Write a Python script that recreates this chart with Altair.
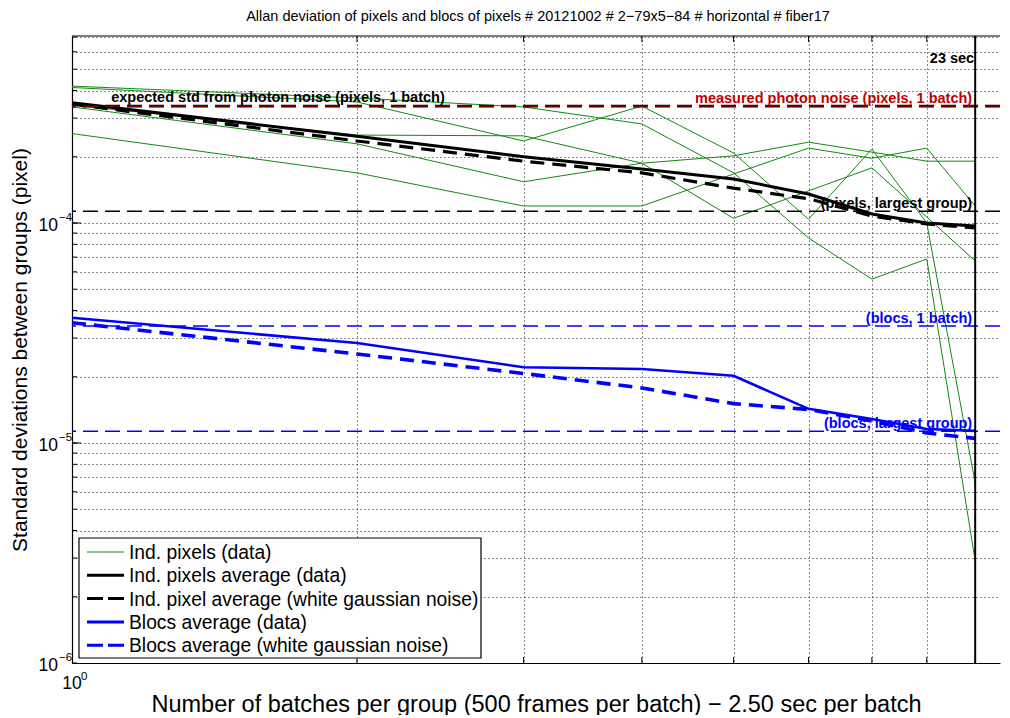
import altair as alt
import pandas as pd

# ---------------- data ----------------
batches = [1, 2, 3, 4, 5, 6, 7, 8, 9]

pixel_a = [4.19e-4, 3.70e-4, 3.37e-4, 2.82e-4, 1.69e-4, 8.55e-5, 5.56e-5, 6.86e-5, 2.91e-6]
pixel_b = [4.13e-4, 3.55e-4, 2.36e-4, 3.40e-4, 2.08e-4, 1.04e-4, 2.17e-4, 1.00e-4, 6.58e-6]
pixel_c = [3.44e-4, 2.51e-4, 2.49e-4, 1.87e-4, 1.05e-4, 1.40e-4, 1.78e-4, 1.065e-4, 6.72e-5]
pixel_d = [3.37e-4, 2.29e-4, 1.54e-4, 1.87e-4, 2.02e-4, 2.33e-4, 2.10e-4, 1.91e-4, 1.91e-4]
pixel_e = [2.55e-4, 1.69e-4, 1.195e-4, 1.195e-4, 1.67e-4, 2.19e-4, 1.97e-4, 2.19e-4, 1.195e-4]

pix_avg_data = [3.52e-4, 2.48e-4, 2.00e-4, 1.76e-4, 1.585e-4, 1.355e-4, 1.099e-4, 1.00e-4, 0.969e-4]
pix_avg_wgn = [3.47e-4, 2.36e-4, 1.91e-4, 1.69e-4, 1.44e-4, 1.29e-4, 1.076e-4, 0.99e-4, 0.949e-4]
bloc_avg_data = [3.71e-5, 2.85e-5, 2.21e-5, 2.17e-5, 2.02e-5, 1.43e-5, 1.285e-5, 1.158e-5, 1.135e-5]
bloc_avg_wgn = [3.52e-5, 2.54e-5, 2.07e-5, 1.78e-5, 1.51e-5, 1.42e-5, 1.26e-5, 1.11e-5, 1.05e-5]

expected_photon = 3.40e-4
measured_photon = 3.40e-4
pixel_largest = 1.13e-4
bloc_one = 3.40e-5
bloc_largest = 1.13e-5
largest_group = 9

title_text = "Allan deviation of pixels and blocs of pixels # 20121002 # 2\u221279x5\u221284 # horizontal # fiber17"
x_title = "Number of batches per group (500 frames per batch) \u2212 2.50 sec per batch"
y_title = "Standard deviations between groups (pixel)"

legend_labels = [
    "Ind. pixels (data)",
    "Ind. pixels average (data)",
    "Ind. pixel average (white gaussian noise)",
    "Blocs average (data)",
    "Blocs average (white gaussian noise)",
]

y_decades = [1e-4, 1e-5, 1e-6]
y_decade_sup = ["\u22124", "\u22125", "\u22126"]
y_minor = [m * 10.0 ** e for e in (-6, -5, -4) for m in range(1, 10) if m * 10.0 ** e < 7.05e-4]
x_grid = [2, 3, 4, 5, 6, 7, 8, 9]

# ---------------- layout / style ----------------
W, H = 928, 627
FONT = "Liberation Sans"
GREEN = "#108a10"
BLUE = "#0000ff"
RED = "#c00000"

xs = alt.Scale(type="log", domain=[1, 9.56], nice=False)
ys = alt.Scale(type="log", domain=[1e-6, 7.08e-4], nice=False)

x_axis = alt.Axis(values=x_grid, grid=True, gridDash=[1, 3], gridColor="#000000",
                  gridOpacity=0.9, gridWidth=1, labels=False, ticks=False,
                  domain=True, domainColor="black", domainWidth=1.2,
                  title=x_title, titleFont=FONT, titleFontSize=23.5,
                  titleFontWeight="normal", titleColor="black", titlePadding=29)
y_axis = alt.Axis(values=y_minor, grid=True, gridDash=[1, 3], gridColor="#000000",
                  gridOpacity=0.9, gridWidth=1, labels=False, ticks=False,
                  domain=True, domainColor="black", domainWidth=1.2,
                  title=y_title, titleFont=FONT, titleFontSize=21,
                  titleFontWeight="normal", titleColor="black", titlePadding=42)


def X(f="n"):
    return alt.X(f"{f}:Q", scale=xs, axis=x_axis)


def Y(f="v"):
    return alt.Y(f"{f}:Q", scale=ys, axis=y_axis)


# green individual pixels
rows = []
for name, vals in zip("abcde", [pixel_a, pixel_b, pixel_c, pixel_d, pixel_e]):
    for n, v in zip(batches, vals):
        rows.append({"pix": name, "n": n, "v": v})
green_df = pd.DataFrame(rows)

green = alt.Chart(green_df).mark_line(color=GREEN, strokeWidth=1).encode(
    x=X(), y=Y(), detail="pix:N")


def series(vals, color, width, dash=None):
    df = pd.DataFrame({"n": batches, "v": vals})
    kw = dict(color=color, strokeWidth=width)
    if dash:
        kw["strokeDash"] = dash
    return alt.Chart(df).mark_line(**kw).encode(x=X(), y=Y())


blk_data = series(pix_avg_data, "black", 3)
blk_wgn = series(pix_avg_wgn, "black", 3.2, [14, 8])
blu_data = series(bloc_avg_data, BLUE, 2.6)
blu_wgn = series(bloc_avg_wgn, BLUE, 3.6, [14, 8])


def hline(val, color, width, dash):
    return alt.Chart(pd.DataFrame({"v": [val]})).mark_rule(
        color=color, strokeWidth=width, strokeDash=dash).encode(y=Y())


ref_exp = hline(expected_photon, "black", 2.6, [15, 7])
ref_meas = hline(measured_photon, "#9a0000", 1.4, [15, 7])
ref_pix_big = hline(pixel_largest, "black", 1.5, [15, 7])
ref_bloc_one = hline(bloc_one, BLUE, 1.5, [15, 7])
ref_bloc_big = hline(bloc_largest, BLUE, 1.5, [15, 7])

vline = alt.Chart(pd.DataFrame({"n": [largest_group]})).mark_rule(
    color="black", strokeWidth=2).encode(x=X())

# annotations
ann_df = pd.DataFrame({
    "n": [1.10, largest_group, largest_group, largest_group, largest_group, largest_group],
    "v": [expected_photon, measured_photon, pixel_largest, bloc_one, bloc_largest, 5.6e-4],
    "t": ["expected std from photon noise (pixels, 1 batch)",
          "measured photon noise (pixels, 1 batch)",
          "(pixels, largest group)", "(blocs, 1 batch)",
          "(blocs, largest group)", "23 sec"],
    "c": ["black", RED, "black", BLUE, BLUE, "black"],
    "a": ["left", "right", "right", "right", "right", "right"],
})


def ann(i, dy, dx):
    r = ann_df.iloc[[i]]
    return alt.Chart(r).mark_text(
        align=r["a"].iloc[0], baseline="alphabetic", dx=dx,
        dy=dy, font=FONT, fontSize=14.5, fontWeight="bold", color=r["c"].iloc[0]
    ).encode(x=X(), y=Y(), text="t:N")


anns = [ann(0, -4, 0), ann(1, -3, -3), ann(2, -3, -3), ann(3, -3, -3),
        ann(4, -3, -3), ann(5, 5, -1)]

# title as text above the plot
title_mark = alt.Chart(pd.DataFrame({"t": [title_text]})).mark_text(
    align="center", baseline="alphabetic", font=FONT, fontSize=14.5,
    color="black").encode(x=alt.value(W / 2 + 2), y=alt.value(-15), text="t:N")

# top border & inward ticks
top_border = alt.Chart(pd.DataFrame({"k": [0]})).mark_rule(color="black", strokeWidth=1.2).encode(
    x=alt.value(0), x2=alt.value(W), y=alt.value(0))
xt_df = pd.DataFrame({"n": x_grid})
xticks_bot = alt.Chart(xt_df).mark_rule(color="black", strokeWidth=1).encode(
    x=X(), y=alt.value(H), y2=alt.value(H - 6))
xticks_top = alt.Chart(xt_df).mark_rule(color="black", strokeWidth=1).encode(
    x=X(), y=alt.value(0), y2=alt.value(6))
yt_df = pd.DataFrame({"v": y_minor})
yticks = alt.Chart(yt_df).mark_rule(color="black", strokeWidth=1).encode(
    y=Y(), x=alt.value(0), x2=alt.value(5))
ytm_df = pd.DataFrame({"v": y_decades[:2]})
yticks_major = alt.Chart(ytm_df).mark_rule(color="black", strokeWidth=1).encode(
    y=Y(), x=alt.value(0), x2=alt.value(9))

# axis tick labels as 10 + superscript
yl_df = pd.DataFrame({"v": y_decades, "t": ["10"] * 3, "s": y_decade_sup})
ylab = alt.Chart(yl_df).mark_text(align="right", baseline="middle", font=FONT, fontSize=17.5,
                                  color="black", dy=3).encode(
    y=Y(), x=alt.value(-14), text="t:N")
ysup = alt.Chart(yl_df).mark_text(align="left", baseline="middle", font=FONT, fontSize=11.5,
                                  color="black", dy=-5).encode(
    y=Y(), x=alt.value(-13), text="s:N")
xl_df = pd.DataFrame({"n": [1], "t": ["10"], "s": ["0"]})
xlab = alt.Chart(xl_df).mark_text(align="center", baseline="middle", font=FONT, fontSize=17.5,
                                  color="black").encode(
    x=X(), y=alt.value(H + 21), text="t:N")
xsup = alt.Chart(xl_df).mark_text(align="left", baseline="middle", font=FONT, fontSize=11.5,
                                  color="black", dx=9).encode(
    x=X(), y=alt.value(H + 14), text="s:N")

# legend (manual box)
LX0, LX1, LY0, LY1 = 7, 409, 502, 622
leg_box = alt.Chart(pd.DataFrame({"k": [0]})).mark_rect(
    fill="white", stroke="black", strokeWidth=1.2).encode(
    x=alt.value(LX0), x2=alt.value(LX1), y=alt.value(LY0), y2=alt.value(LY1))
leg_styles = [
    (GREEN, 1, None),
    ("black", 3, None),
    ("black", 3, [16, 5]),
    (BLUE, 3, None),
    (BLUE, 3, [16, 5]),
]
leg_layers = []
for i, (lab, (col, w, dash)) in enumerate(zip(legend_labels, leg_styles)):
    yy = LY0 + 14 + i * 23.3
    kw = dict(color=col, strokeWidth=w)
    if dash:
        kw["strokeDash"] = dash
    d = pd.DataFrame({"t": [lab]})
    leg_layers.append(alt.Chart(d).mark_rule(**kw).encode(
        x=alt.value(15), x2=alt.value(52), y=alt.value(yy)))
    leg_layers.append(alt.Chart(d).mark_text(
        align="left", baseline="middle", font=FONT, fontSize=19.3, color="black", dy=1).encode(
        x=alt.value(57), y=alt.value(yy), text="t:N"))

chart = alt.layer(
    green, blk_data, blk_wgn, blu_data, blu_wgn,
    ref_exp, ref_meas, ref_pix_big, ref_bloc_one, ref_bloc_big,
    vline, top_border, xticks_bot, xticks_top, yticks, yticks_major,
    *anns, title_mark, ylab, ysup, xlab, xsup, leg_box, *leg_layers
).properties(
    width=W, height=H,
    padding={"left": 64, "top": 28, "right": 2, "bottom": 52},
    autosize=alt.AutoSizeParams(type="none"),
    background="white",
).configure_view(stroke=None)

chart.save("out.html", embed_options={"renderer": "svg", "actions": False})
